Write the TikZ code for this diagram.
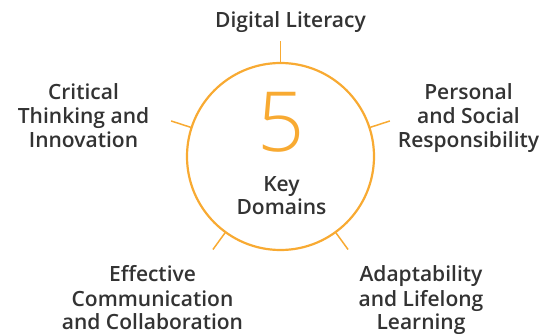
\documentclass[tikz,border=0pt]{standalone}
\usepackage{fontspec}
\setmainfont{Open Sans}
\IfFontExistsTF{Open Sans SemiBold}{\newfontfamily\semibf{Open Sans SemiBold}\def\lblsize{21}}{%
  \IfFontExistsTF{Open Sans Semibold}{\newfontfamily\semibf{Open Sans Semibold}\def\lblsize{21}}{%
    \newcommand\semibf{\bfseries}\def\lblsize{20.5}}}
\IfFontExistsTF{Open Sans Light}{\newfontfamily\lightf{Open Sans Light}}{\newcommand\lightf{}}
\usetikzlibrary{calc}
\definecolor{orng}{HTML}{F8AA32}
\definecolor{txt}{HTML}{333333}
\tikzset{
  lbl/.style={font=\semibf\fontsize{\lblsize}{24}\selectfont, text=txt, align=center, inner sep=0pt, anchor=base},
  tick/.style={draw=orng, line width=1.5pt},
}
\begin{document}
\begin{tikzpicture}[x=1pt,y=-1pt]
\useasboundingbox (0,0) rectangle (555,334);
\node[circle, draw=orng, line width=2.2pt, minimum size=187pt, inner sep=0pt] (c) at (280.5,156.5) {};
\foreach \a/\n in {90/t,162/l,234/bl,306/br,18/r}{
  \coordinate (i\n) at ($(c.center)+(\a:93.5pt)$);
  \coordinate (o\n) at ($(c.center)+(\a:115pt)$);
}
\draw[tick] (it) -- (ot);
\draw[tick] (il) -- (ol);
\draw[tick] (ibl) -- (obl);
\draw[tick] (ibr) -- (obr);
\draw[tick] (ir) -- (or);
\node[font=\lightf\fontsize{83}{83}\selectfont, text=orng, inner sep=0pt, anchor=base] (five) at (281.5,152) {5};
\node[lbl] (key) at (281.5,215) {Key\\Domains};
\node[lbl] (dl) at (290.5,27.3) {Digital Literacy};
\node[lbl] (ct) at (83.5,148) {Critical\\Thinking and\\Innovation};
\node[lbl] (ps) at (468.5,148) {Personal\\and Social\\Responsibility};
\node[lbl] (ec) at (152.5,330) {Effective\\Communication\\and Collaboration};
\node[lbl] (al) at (421,330) {Adaptability\\and Lifelong\\Learning};
\end{tikzpicture}
\end{document}
